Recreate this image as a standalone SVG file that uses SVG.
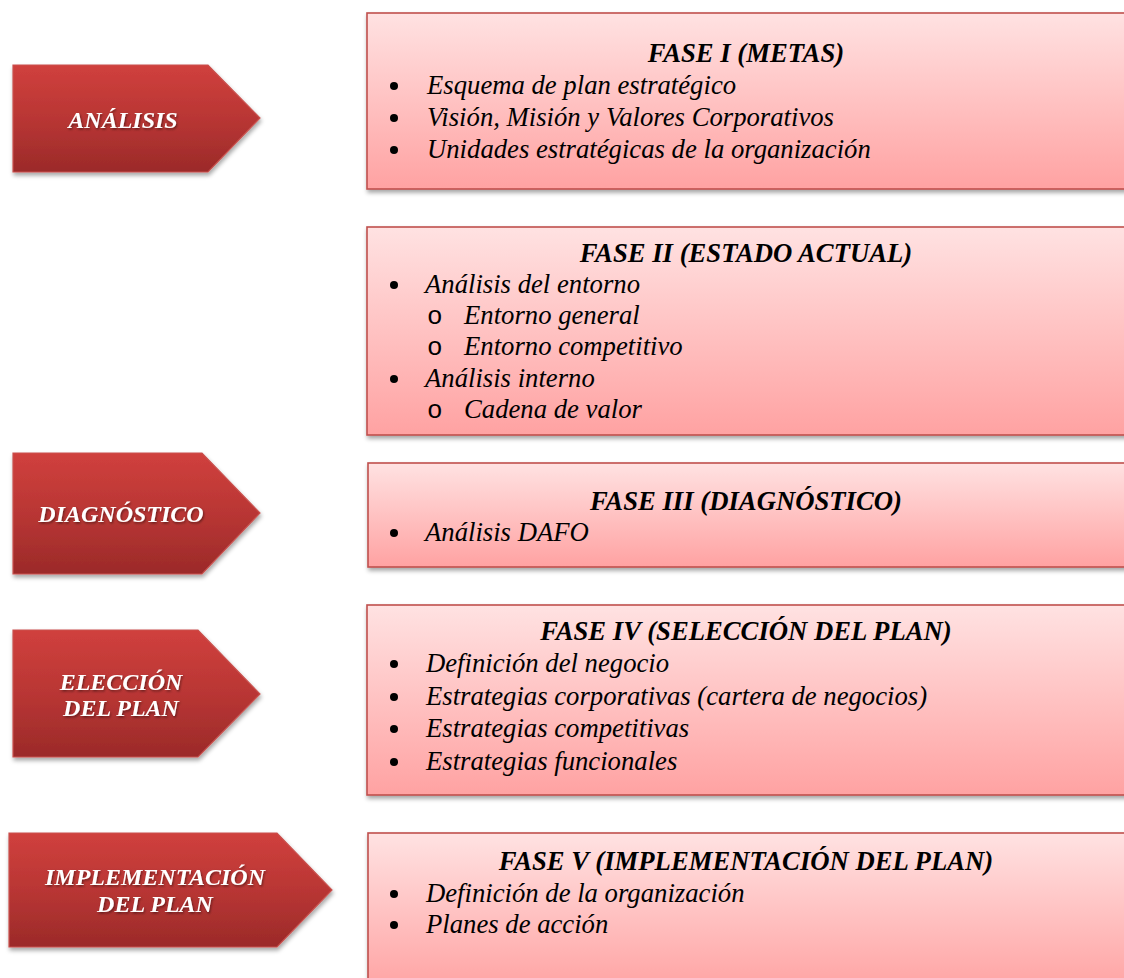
<svg xmlns="http://www.w3.org/2000/svg" width="1124" height="978" viewBox="0 0 1124 978">
  <defs>
    <linearGradient id="arrowFill" x1="0" y1="0" x2="0" y2="1">
      <stop offset="0" stop-color="#d0403d"/>
      <stop offset="0.5" stop-color="#b93634"/>
      <stop offset="1" stop-color="#9b2a29"/>
    </linearGradient>
    <linearGradient id="boxFill" x1="0" y1="0" x2="0" y2="1">
      <stop offset="0" stop-color="#ffe2e2"/>
      <stop offset="1" stop-color="#ffa2a2"/>
    </linearGradient>
    <filter id="shadow" x="-10%" y="-10%" width="120%" height="130%">
      <feDropShadow dx="1" dy="3" stdDeviation="2" flood-color="#000" flood-opacity="0.35"/>
    </filter>
    <filter id="textShadow" x="-10%" y="-30%" width="120%" height="160%">
      <feDropShadow dx="1" dy="1.5" stdDeviation="1" flood-color="#000" flood-opacity="0.45"/>
    </filter>
  </defs>
  <style>
    .arrow { fill: url(#arrowFill); stroke: #c9514e; stroke-width: 1.2; filter: url(#shadow); }
    .box { fill: url(#boxFill); stroke: #c0504d; stroke-width: 1.6; filter: url(#shadow); }
    .label { font-family: "Liberation Serif", "Times New Roman", serif; font-style: italic; font-weight: bold; font-size: 24px; fill: #ffffff; text-anchor: middle; filter: url(#textShadow); }
    .title { font-family: "Liberation Serif", "Times New Roman", serif; font-style: italic; font-weight: bold; font-size: 26.7px; fill: #000; text-anchor: middle; }
    .item { font-family: "Liberation Serif", "Times New Roman", serif; font-style: italic; font-size: 26.7px; fill: #000; }
    .sub { font-family: "Liberation Mono", "Courier New", monospace; font-size: 26px; fill: #000; }
    .dot { fill: #000; }
  </style>

  <rect width="1124" height="978" fill="#ffffff"/>

  <!-- stage arrows -->
  <g id="stage-analisis">
    <polygon class="arrow" points="13,65 208,65 260,118 208,172 13,172"/>
    <text class="label" x="123" y="128">ANÁLISIS</text>
  </g>
  <g id="stage-diagnostico">
    <polygon class="arrow" points="13,453 202,453 260,513 202,574 13,574"/>
    <text class="label" x="121" y="522">DIAGNÓSTICO</text>
  </g>
  <g id="stage-eleccion">
    <polygon class="arrow" points="13,630 198,630 260,694 198,757 13,757"/>
    <text class="label" x="121" y="690">ELECCIÓN</text>
    <text class="label" x="121" y="716">DEL PLAN</text>
  </g>
  <g id="stage-implementacion">
    <polygon class="arrow" points="9,833 277,833 332,890 277,947 9,947"/>
    <text class="label" x="155" y="885">IMPLEMENTACIÓN</text>
    <text class="label" x="155" y="912">DEL PLAN</text>
  </g>

  <!-- phase boxes -->
  <g id="fase-1">
    <rect class="box" x="367" y="13" width="770" height="176"/>
    <text class="title" x="746" y="62">FASE I (METAS)</text>
    <circle class="dot" cx="394" cy="86" r="4"/>
    <text class="item" x="427" y="94">Esquema de plan estratégico</text>
    <circle class="dot" cx="394" cy="118" r="4"/>
    <text class="item" x="427" y="126">Visión, Misión y Valores Corporativos</text>
    <circle class="dot" cx="394" cy="150" r="4"/>
    <text class="item" x="427" y="158">Unidades estratégicas de la organización</text>
  </g>

  <g id="fase-2">
    <rect class="box" x="367" y="227" width="770" height="208"/>
    <text class="title" x="746" y="262">FASE II (ESTADO ACTUAL)</text>
    <circle class="dot" cx="394" cy="285" r="4"/>
    <text class="item" x="425" y="293">Análisis del entorno</text>
    <text class="sub" x="427" y="324">o</text>
    <text class="item" x="464" y="324">Entorno general</text>
    <text class="sub" x="427" y="355">o</text>
    <text class="item" x="464" y="355">Entorno competitivo</text>
    <circle class="dot" cx="394" cy="379" r="4"/>
    <text class="item" x="425" y="387">Análisis interno</text>
    <text class="sub" x="427" y="418">o</text>
    <text class="item" x="464" y="418">Cadena de valor</text>
  </g>

  <g id="fase-3">
    <rect class="box" x="368" y="463" width="770" height="104"/>
    <text class="title" x="746" y="510">FASE III (DIAGNÓSTICO)</text>
    <circle class="dot" cx="394" cy="533" r="4"/>
    <text class="item" x="425" y="541">Análisis DAFO</text>
  </g>

  <g id="fase-4">
    <rect class="box" x="367" y="605" width="770" height="190"/>
    <text class="title" x="746" y="640">FASE IV (SELECCIÓN DEL PLAN)</text>
    <circle class="dot" cx="394" cy="664" r="4"/>
    <text class="item" x="426" y="672">Definición del negocio</text>
    <circle class="dot" cx="394" cy="697" r="4"/>
    <text class="item" x="426" y="705">Estrategias corporativas (cartera de negocios)</text>
    <circle class="dot" cx="394" cy="729" r="4"/>
    <text class="item" x="426" y="737">Estrategias competitivas</text>
    <circle class="dot" cx="394" cy="762" r="4"/>
    <text class="item" x="426" y="770">Estrategias funcionales</text>
  </g>

  <g id="fase-5">
    <rect class="box" x="368" y="833" width="770" height="160"/>
    <text class="title" x="746" y="870">FASE V (IMPLEMENTACIÓN DEL PLAN)</text>
    <circle class="dot" cx="394" cy="894" r="4"/>
    <text class="item" x="426" y="902">Definición de la organización</text>
    <circle class="dot" cx="394" cy="925" r="4"/>
    <text class="item" x="426" y="933">Planes de acción</text>
  </g>

  <!-- no connectors are drawn between the stages -->
  <g id="connectors"/>
</svg>
